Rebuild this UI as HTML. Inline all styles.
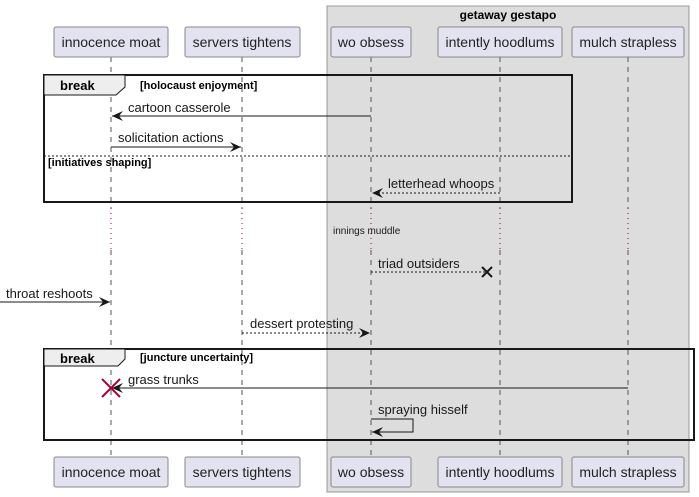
<!DOCTYPE html>
<html><head><meta charset="utf-8"><style>html,body{margin:0;padding:0;background:#fff}svg{display:block}text{font-family:"Liberation Sans",sans-serif}</style></head><body>
<svg width="699" height="497" viewBox="0 0 699 497" xmlns="http://www.w3.org/2000/svg">
<defs>
<marker id="a" viewBox="0 0 12 10" refX="11" refY="5" markerWidth="12" markerHeight="10" orient="auto-start-reverse" markerUnits="userSpaceOnUse"><path d="M0,0 L11,5 L0,10 L4,5 Z" fill="#181818"/></marker>
</defs>
<rect x="327" y="6" width="362" height="486" fill="#dddddd" stroke="#999" stroke-width="1"/>
<text x="508" y="19" font-size="12" font-weight="bold" text-anchor="middle">getaway gestapo</text>
<g stroke="#555" stroke-width="1" stroke-dasharray="5,5">
<line x1="111" y1="57" x2="111" y2="208"/><line x1="111" y1="250" x2="111" y2="457"/>
<line x1="242" y1="57" x2="242" y2="208"/><line x1="242" y1="250" x2="242" y2="457"/>
<line x1="371" y1="57" x2="371" y2="208"/><line x1="371" y1="250" x2="371" y2="457"/>
<line x1="500" y1="57" x2="500" y2="208"/><line x1="500" y1="250" x2="500" y2="457"/>
<line x1="628" y1="57" x2="628" y2="208"/><line x1="628" y1="250" x2="628" y2="457"/>
</g>
<g stroke="#a80036" stroke-width="1" stroke-dasharray="1,4">
<line x1="111" y1="208" x2="111" y2="250"/><line x1="242" y1="208" x2="242" y2="250"/><line x1="371" y1="208" x2="371" y2="250"/><line x1="500" y1="208" x2="500" y2="250"/><line x1="628" y1="208" x2="628" y2="250"/>
</g>
<g fill="#e2e2f0" stroke="#888" stroke-width="1">
<rect x="54" y="27" width="114" height="30" rx="2"/><rect x="185" y="27" width="115" height="30" rx="2"/><rect x="331" y="27" width="80" height="30" rx="2"/><rect x="438" y="27" width="124" height="30" rx="2"/><rect x="572" y="27" width="112" height="30" rx="2"/>
<rect x="54" y="457" width="114" height="30" rx="2"/><rect x="185" y="457" width="115" height="30" rx="2"/><rect x="331" y="457" width="80" height="30" rx="2"/><rect x="438" y="457" width="124" height="30" rx="2"/><rect x="572" y="457" width="112" height="30" rx="2"/>
</g>
<g font-size="14" text-anchor="middle" fill="#222">
<text x="111" y="47">innocence moat</text><text x="242" y="47">servers tightens</text><text x="371" y="47">wo obsess</text><text x="500" y="47">intently hoodlums</text><text x="628" y="47">mulch strapless</text>
<text x="111" y="477">innocence moat</text><text x="242" y="477">servers tightens</text><text x="371" y="477">wo obsess</text><text x="500" y="477">intently hoodlums</text><text x="628" y="477">mulch strapless</text>
</g>
<rect x="44" y="75" width="528" height="127" fill="none" stroke="#181818" stroke-width="2"/>
<path d="M44,75 L125,75 L125,87 L116,95 L44,95 Z" fill="#eeeeee" stroke="#181818" stroke-width="1"/>
<text x="60" y="90" font-size="13" font-weight="bold">break</text>
<text x="140" y="89" font-size="11" font-weight="bold">[holocaust enjoyment]</text>
<line x1="44" y1="156" x2="572" y2="156" stroke="#181818" stroke-dasharray="2,2"/>
<text x="48" y="166" font-size="11" font-weight="bold">[initiatives shaping]</text>
<g font-size="13" fill="#181818">
<line x1="371" y1="116" x2="112" y2="116" stroke="#181818" marker-end="url(#a)"/>
<text x="128" y="112">cartoon casserole</text>
<line x1="111" y1="147" x2="241" y2="147" stroke="#181818" marker-end="url(#a)"/>
<text x="118" y="142">solicitation actions</text>
<line x1="500" y1="193" x2="372" y2="193" stroke="#181818" stroke-dasharray="2,2" marker-end="url(#a)"/>
<text x="388" y="188">letterhead whoops</text>
<text x="333" y="234" font-size="10">innings muddle</text>
<line x1="371" y1="272" x2="486" y2="272" stroke="#181818" stroke-dasharray="2,2"/>
<path d="M482,267 L492,277 M492,267 L482,277" stroke="#181818" stroke-width="2"/>
<text x="378" y="268">triad outsiders</text>
<line x1="0" y1="302" x2="110" y2="302" stroke="#181818" marker-end="url(#a)"/>
<text x="6" y="298">throat reshoots</text>
<line x1="242" y1="333" x2="370" y2="333" stroke="#181818" stroke-dasharray="2,2" marker-end="url(#a)"/>
<text x="250" y="328">dessert protesting</text>
</g>
<rect x="44" y="349" width="650" height="91" fill="none" stroke="#181818" stroke-width="2"/>
<path d="M44,349 L125,349 L125,359 L118,366 L44,366 Z" fill="#eeeeee" stroke="#181818" stroke-width="1"/>
<text x="60" y="363" font-size="13" font-weight="bold">break</text>
<text x="140" y="361" font-size="11" font-weight="bold">[juncture uncertainty]</text>
<g font-size="13" fill="#181818">
<line x1="628" y1="388" x2="112" y2="388" stroke="#181818" marker-end="url(#a)"/>
<path d="M102,379 L120,397 M120,379 L102,397" stroke="#a80036" stroke-width="2"/>
<text x="128" y="384">grass trunks</text>
<polyline points="371,419 413,419 413,432 372,432" fill="none" stroke="#181818" marker-end="url(#a)"/>
<text x="378" y="414">spraying hisself</text>
</g>
</svg>
</body></html>
